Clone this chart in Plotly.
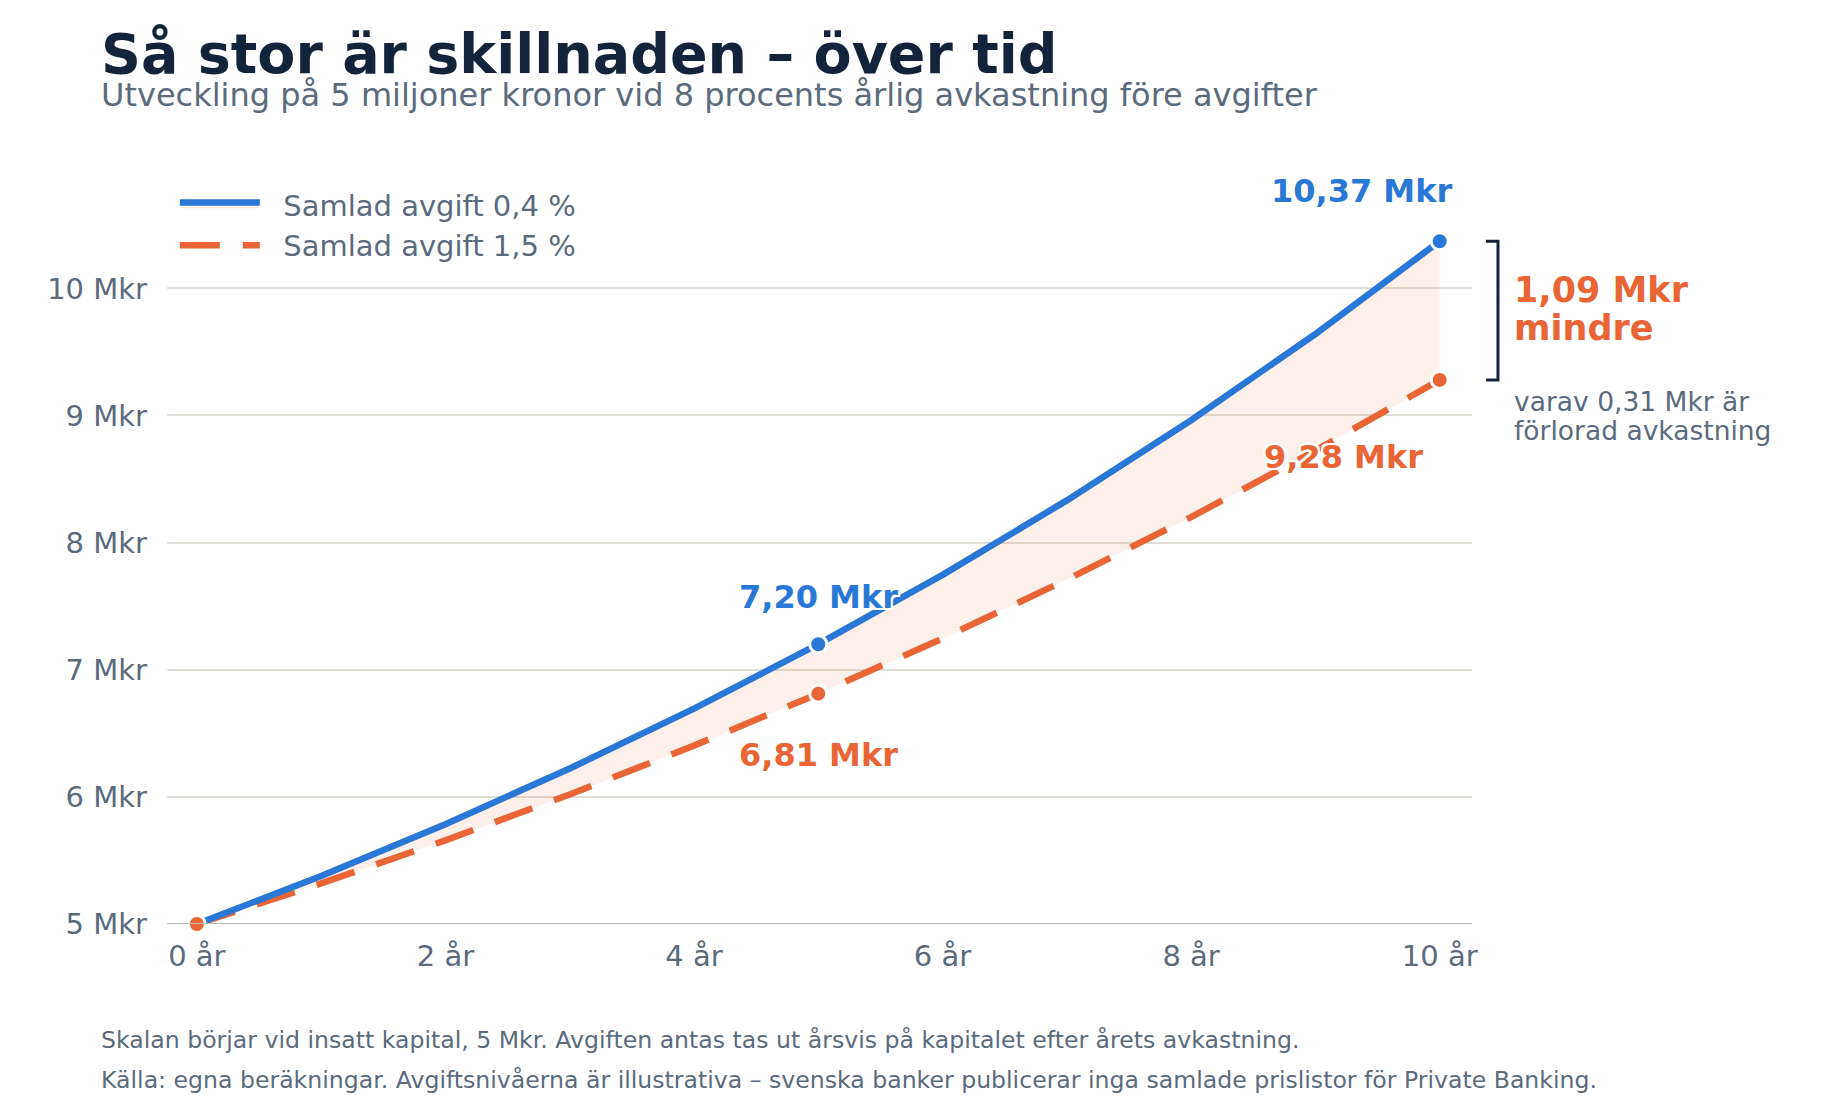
import plotly.graph_objects as go

# =====================================
# DATA
# =====================================

years = [0, 1, 2, 3, 4, 5, 6, 7, 8, 9, 10]

low_fee = [5.00, 5.378, 5.785, 6.223, 6.694, 7.201, 7.746, 8.332, 8.963, 9.641, 10.371]
high_fee = [5.00, 5.319, 5.658, 6.019, 6.403, 6.812, 7.246, 7.709, 8.201, 8.724, 9.280]

low_name = "Samlad avgift 0,4 %"
high_name = "Samlad avgift 1,5 %"

highlight_low = [5, 10]
highlight_high = [0, 5, 10]

y_ticks = [5, 6, 7, 8, 9, 10]
x_ticks = [0, 2, 4, 6, 8, 10]

title = "Så stor är skillnaden – över tid"
subtitle = "Utveckling på 5 miljoner kronor vid 8 procents årlig avkastning före avgifter"
notes = [
    "Skalan börjar vid insatt kapital, 5 Mkr. Avgiften antas tas ut årsvis på kapitalet efter årets avkastning.",
    "Källa: egna beräkningar. Avgiftsnivåerna är illustrativa – svenska banker publicerar inga samlade prislistor för Private Banking.",
]
lost_return = ["varav 0,31 Mkr är", "förlorad avkastning"]

BLUE = "#2a78d6"
ORANGE = "#e96535"
NAVY = "#13233a"
GREY = "#5b6b7c"
FONT = "DejaVu Sans"
HALO = (
    "2px 2px 0 white, -2px -2px 0 white, 2px -2px 0 white, -2px 2px 0 white, "
    "0 2px 0 white, 0 -2px 0 white, 2px 0 0 white, -2px 0 0 white"
)
PAD = "\u00a0\u00a0"


def mkr(v):
    return f"{v:.2f}".replace(".", ",") + " Mkr"


fig = go.Figure()

# =====================================
# LINES + FILL
# =====================================

fig.add_trace(
    go.Scatter(
        x=years,
        y=high_fee,
        mode="lines",
        line=dict(color=ORANGE, width=6.5, dash="40px,23px"),
        name=PAD + high_name,
        legendrank=2,
        hoverinfo="skip"
    )
)

fig.add_trace(
    go.Scatter(
        x=years,
        y=low_fee,
        mode="lines",
        line=dict(color=BLUE, width=6.5),
        fill="tonexty",
        fillcolor="rgba(233,101,53,0.1)",
        name=PAD + low_name,
        legendrank=1,
        hoverinfo="skip"
    )
)

# =====================================
# HIGHLIGHT POINTS
# =====================================

fig.add_trace(
    go.Scatter(
        x=highlight_low,
        y=[low_fee[i] for i in highlight_low],
        mode="markers",
        marker=dict(color=BLUE, size=17, line=dict(color="white", width=3)),
        showlegend=False,
        cliponaxis=False
    )
)

fig.add_trace(
    go.Scatter(
        x=highlight_high,
        y=[high_fee[i] for i in highlight_high],
        mode="markers",
        marker=dict(color=ORANGE, size=17, line=dict(color="white", width=3)),
        showlegend=False,
        cliponaxis=False
    )
)

# =====================================
# VALUE LABELS
# =====================================

labels = [
    (5, low_fee[5], BLUE, 0, 47),
    (5, high_fee[5], ORANGE, 0, -61),
    (10, low_fee[10], BLUE, -78, 50),
    (10, high_fee[10], ORANGE, -96, -77),
]

for x, y, color, dx, dy in labels:
    fig.add_annotation(
        x=x,
        y=y,
        xref="x",
        yref="y",
        text="<b>" + mkr(y) + "</b>",
        showarrow=False,
        xshift=dx,
        yshift=dy,
        font=dict(family=FONT, size=32, color=color, shadow=HALO)
    )

# =====================================
# DIFFERENCE BRACKET
# =====================================

x0 = 1.0107
x1 = 1.0199

fig.add_shape(
    type="path",
    xref="paper",
    yref="y",
    path=(
        f"M {x0},{low_fee[-1]} L {x1},{low_fee[-1]} "
        f"L {x1},{high_fee[-1]} L {x0},{high_fee[-1]}"
    ),
    line=dict(color=NAVY, width=3)
)

gap_lines = ["<b>" + mkr(low_fee[-1] - high_fee[-1]) + "</b>", "<b>mindre</b>"]

for txt, py in zip(gap_lines, [290, 328]):
    fig.add_annotation(
        x=1.031, y=(924 - py) / 731,
        xref="paper", yref="paper",
        xanchor="left", yanchor="middle",
        showarrow=False,
        text=txt,
        font=dict(family=FONT, size=35, color=ORANGE)
    )

for txt, py in zip(lost_return, [401, 430]):
    fig.add_annotation(
        x=1.031, y=(924 - py) / 731,
        xref="paper", yref="paper",
        xanchor="left", yanchor="middle",
        showarrow=False,
        text=txt,
        font=dict(family=FONT, size=26.5, color=GREY)
    )

# =====================================
# TITLES + NOTES
# =====================================

fig.add_annotation(
    x=-0.0523, y=1.1915, xref="paper", yref="paper",
    xanchor="left", yanchor="middle", showarrow=False,
    text="<b>" + title + "</b>",
    font=dict(family=FONT, size=55.5, color=NAVY)
)

fig.add_annotation(
    x=-0.0523, y=1.134, xref="paper", yref="paper",
    xanchor="left", yanchor="middle", showarrow=False,
    text=subtitle,
    font=dict(family=FONT, size=32, color=GREY)
)

for note, ny in zip(notes, [-0.1587, -0.2134]):
    fig.add_annotation(
        x=-0.0518, y=ny, xref="paper", yref="paper",
        xanchor="left", yanchor="middle", showarrow=False,
        text=note,
        font=dict(family=FONT, size=23.6, color=GREY)
    )

# =====================================
# LAYOUT
# =====================================

# page body adds 8px around the figure, so the figure is 8px smaller
fig.update_layout(
    width=1831,
    height=1112,
    margin=dict(l=159, r=367, t=185, b=196),
    plot_bgcolor="white",
    paper_bgcolor="white",
    font=dict(family=FONT, color=GREY),
    showlegend=True,
    legend=dict(
        x=0.006,
        y=1.019,
        xanchor="left",
        yanchor="top",
        traceorder="normal",
        itemwidth=80,
        bgcolor="rgba(0,0,0,0)",
        font=dict(family=FONT, size=29, color=GREY)
    ),
    hovermode=False
)

fig.update_xaxes(
    range=[-0.24, 10.26],
    tickvals=x_ticks,
    ticktext=[f"{v} år" for v in x_ticks],
    tickfont=dict(size=29, color=GREY),
    showgrid=False,
    zeroline=False,
    showline=False,
    ticks="",
    ticklabelstandoff=12
)

fig.update_yaxes(
    range=[5, 10.75],
    tickvals=y_ticks,
    ticktext=[f"{v} Mkr" for v in y_ticks],
    tickfont=dict(size=29, color=GREY),
    showgrid=True,
    gridcolor="#e0dfd7",
    gridwidth=2,
    zeroline=False,
    showline=False,
    ticks="",
    ticklabelstandoff=19
)

# base line at 5 Mkr
fig.add_shape(
    type="line",
    xref="paper", yref="y",
    x0=0, x1=1, y0=y_ticks[0], y1=y_ticks[0],
    line=dict(color="#bcbcb2", width=2),
    layer="above"
)

fig.write_html("out.html")
